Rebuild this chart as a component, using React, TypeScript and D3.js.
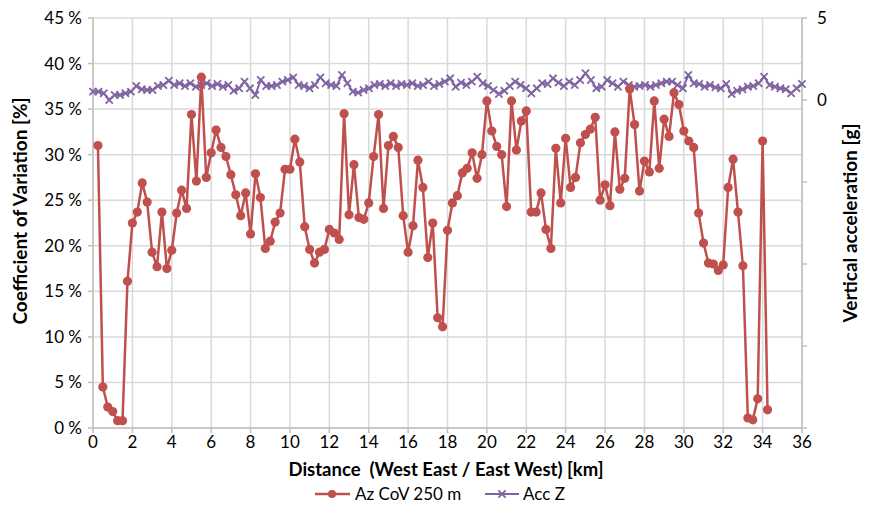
import * as d3 from "d3"
import React from "react"

// Az CoV over 250 m windows, one value every 0.25 km starting at 0.25 km [%]
const covStep = 0.25
const covValues = [
  31.0, 4.5, 2.3, 1.8, 0.8, 0.8, 16.1, 22.5, 23.7, 26.9, 24.8, 19.3, 17.7, 23.7, 17.5, 19.5, 23.6, 26.1, 24.1, 34.4,
  27.1, 38.5, 27.5, 30.2, 32.7, 30.8, 29.8, 27.8, 25.6, 23.3, 25.8, 21.3, 27.9, 25.3, 19.7, 20.5, 22.6, 23.6,
  28.4, 28.4, 31.7, 29.2, 22.1, 19.6, 18.1, 19.3, 19.6, 21.8, 21.4, 20.7, 34.5, 23.4, 28.9, 23.1, 22.9, 24.7,
  29.8, 34.4, 24.1, 31.0, 32.0, 30.8, 23.3, 19.3, 22.2, 29.4, 26.4, 18.7, 22.5, 12.1, 11.1, 21.7, 24.7, 25.5,
  28.0, 28.5, 30.2, 27.4, 30.0, 35.9, 32.6, 30.9, 30.0, 24.3, 35.9, 30.5, 33.7, 34.8, 23.7, 23.7, 25.8, 21.8,
  19.7, 30.7, 24.7, 31.8, 26.4, 27.5, 31.3, 32.2, 32.8, 34.1, 25.0, 26.7, 24.4, 32.5, 26.2, 27.4, 37.2, 33.3,
  26.0, 29.3, 28.1, 35.9, 28.5,
  33.9, 32.0, 36.8, 35.5, 32.6, 31.5, 30.8, 23.6, 20.3, 18.1, 18.0, 17.3, 17.9, 26.4, 29.5, 23.7, 17.8, 1.1,
  0.9, 3.2, 31.5, 2.0,
]

// Acc Z [g], sampled evenly along the whole 0..36 km run
const accValues = [
  0.51, 0.51, 0.41, 0.0, 0.3, 0.3, 0.41, 0.51, 0.85, 0.65, 0.61, 0.61, 0.85, 0.91, 1.18, 0.91, 1.02, 0.85, 1.02, 0.81,
  0.91, 1.02, 0.85, 0.98, 0.81, 0.91,
  0.57, 0.71, 1.12, 0.71, 0.31, 1.22, 0.85, 0.85, 0.91, 1.12, 1.22, 1.38, 0.91, 0.85, 0.71, 0.91, 1.38, 1.02, 0.91,
  0.85, 1.52, 1.02, 0.51, 0.45, 0.61, 0.71, 0.91,
  0.98, 0.85, 1.02, 0.85, 0.98, 0.91, 1.02, 0.85, 0.91, 1.12, 0.85, 0.98, 1.12, 1.32, 0.81, 1.06, 0.91, 1.12, 1.42,
  1.02, 0.85, 0.61, 0.37, 0.57, 0.85, 1.12, 0.91,
  0.71, 0.41, 0.71, 1.02, 0.98, 1.32, 1.06, 0.85, 1.12, 0.91, 1.22, 1.63, 1.22, 0.71, 0.81, 1.22, 1.02, 0.81, 1.12,
  0.91, 0.81, 0.85, 0.91, 0.81, 0.91, 1.02, 1.12,
  1.12, 0.91, 0.71, 1.52, 1.02, 0.98, 0.81, 0.91, 0.77, 0.71, 0.98, 0.37, 0.57, 0.65, 0.81, 0.85, 1.02, 1.42, 0.91,
  0.81, 0.71, 0.65, 0.41, 0.71, 0.98,
]

const xTickValues = d3.range(0, 37, 2)
const leftTickValues = d3.range(0, 46, 5)
const rightTickValues = [-20, -15, -10, -5, 0, 5]
const rightLabelled = [0, 5]

const covName = "Az CoV 250 m"
const accName = "Acc Z"
const xTitle = "Distance  (West East / East West) [km]"
const leftTitle = "Coefficient of Variation [%]"
const rightTitle = "Vertical acceleration [g]"

const red = "#c0504d"
const purple = "#8064a2"
const grid = "#d9d9d9"
const axisCol = "#bfbfbf"
const font = "Lato, 'Open Sans', sans-serif"

export default function App() {
  const W = 869, H = 511
  const left = 93, right = 802, top = 18, bottom = 428

  const x = d3.scaleLinear().domain([0, 36]).range([left, right])
  const yL = d3.scaleLinear().domain([0, 45]).range([bottom, top])
  const yR = d3.scaleLinear().domain([-20, 5]).range([bottom, top])

  const cov = covValues.map((v, i) => [covStep * (i + 1), v])
  const accStep = 36 / (accValues.length - 1)
  const acc = accValues.map((v, i) => [accStep * i, v])

  const covLine = d3.line().x(d => x(d[0])).y(d => yL(d[1]))(cov as any)
  const accLine = d3.line().x(d => x(d[0])).y(d => yR(d[1]))(acc as any)

  const cross = (cx, cy, s, key) => (
    <path key={key} d={`M${cx - s},${cy - s}L${cx + s},${cy + s}M${cx - s},${cy + s}L${cx + s},${cy - s}`}
      stroke={purple} strokeWidth={1.8} fill="none" />
  )

  return (
    <svg width={W} height={H} style={{ position: "absolute", left: 0, top: 0, background: "#fff" }} fontFamily={font}>
      <rect width={W} height={H} fill="#fff" />
      {/* grid */}
      {xTickValues.map(t => (
        <line key={"gx" + t} x1={x(t)} x2={x(t)} y1={top} y2={bottom} stroke={grid} strokeWidth={1.5} />
      ))}
      {leftTickValues.map(t => (
        <line key={"gy" + t} x1={left} x2={right} y1={yL(t)} y2={yL(t)} stroke={grid} strokeWidth={1.5} />
      ))}
      {/* axes */}
      <line x1={left} x2={left} y1={top} y2={bottom} stroke={axisCol} strokeWidth={1.5} />
      <line x1={right} x2={right} y1={top} y2={bottom} stroke={axisCol} strokeWidth={1.5} />
      <line x1={left} x2={right} y1={bottom} y2={bottom} stroke={axisCol} strokeWidth={1.5} />
      {leftTickValues.map(t => (
        <g key={"ly" + t}>
          <line x1={left - 5} x2={left} y1={yL(t)} y2={yL(t)} stroke={axisCol} strokeWidth={1.5} />
          <text x={left - 11} y={yL(t)} dy="0.35em" textAnchor="end" fontSize={17} fill="#000"
            style={{ whiteSpace: "pre" }}>{t + " %"}</text>
        </g>
      ))}
      {rightTickValues.map(t => (
        <g key={"ry" + t}>
          <line x1={right} x2={right + 5} y1={yR(t)} y2={yR(t)} stroke={axisCol} strokeWidth={1.5} />
          {rightLabelled.includes(t) && (
            <text x={right + 15} y={yR(t)} dy="0.35em" fontSize={17} fill="#000">{t}</text>
          )}
        </g>
      ))}
      {xTickValues.map(t => (
        <g key={"lx" + t}>
          <line x1={x(t)} x2={x(t)} y1={bottom} y2={bottom + 5} stroke={axisCol} strokeWidth={1.5} />
          <text x={x(t)} y={bottom + 20} textAnchor="middle" fontSize={17} fill="#000">{t}</text>
        </g>
      ))}
      {/* series */}
      <path d={accLine} stroke={purple} strokeWidth={2} fill="none" />
      {acc.map((d, i) => cross(x(d[0]), yR(d[1]), 3.6, "a" + i))}
      <path d={covLine} stroke={red} strokeWidth={2.5} fill="none" strokeLinejoin="round" />
      {cov.map((d, i) => (
        <circle key={"c" + i} cx={x(d[0])} cy={yL(d[1])} r={4.6} fill={red} />
      ))}
      {/* titles */}
      <text x={446} y={476} textAnchor="middle" fontSize={18.5} fontWeight="bold" fill="#000"
        style={{ whiteSpace: "pre" }}>{xTitle}</text>
      <text transform={`translate(27,${(top + bottom) / 2 - 12}) rotate(-90)`} textAnchor="middle" fontSize={19}
        fontWeight="bold" fill="#000">{leftTitle}</text>
      <text transform={`translate(857,${(top + bottom) / 2}) rotate(-90)`} textAnchor="middle" fontSize={19}
        fontWeight="bold" fill="#000">{rightTitle}</text>
      {/* legend */}
      <line x1={315} x2={350} y1={494} y2={494} stroke={red} strokeWidth={2.5} />
      <circle cx={332} cy={494} r={4} fill={red} />
      <text x={355} y={494} dy="0.35em" fontSize={17} fill="#000">{covName}</text>
      <line x1={485} x2={519} y1={494} y2={494} stroke={purple} strokeWidth={2} />
      {cross(502, 494, 3.6, "legx")}
      <text x={523} y={494} dy="0.35em" fontSize={17} fill="#000">{accName}</text>
    </svg>
  )
}
